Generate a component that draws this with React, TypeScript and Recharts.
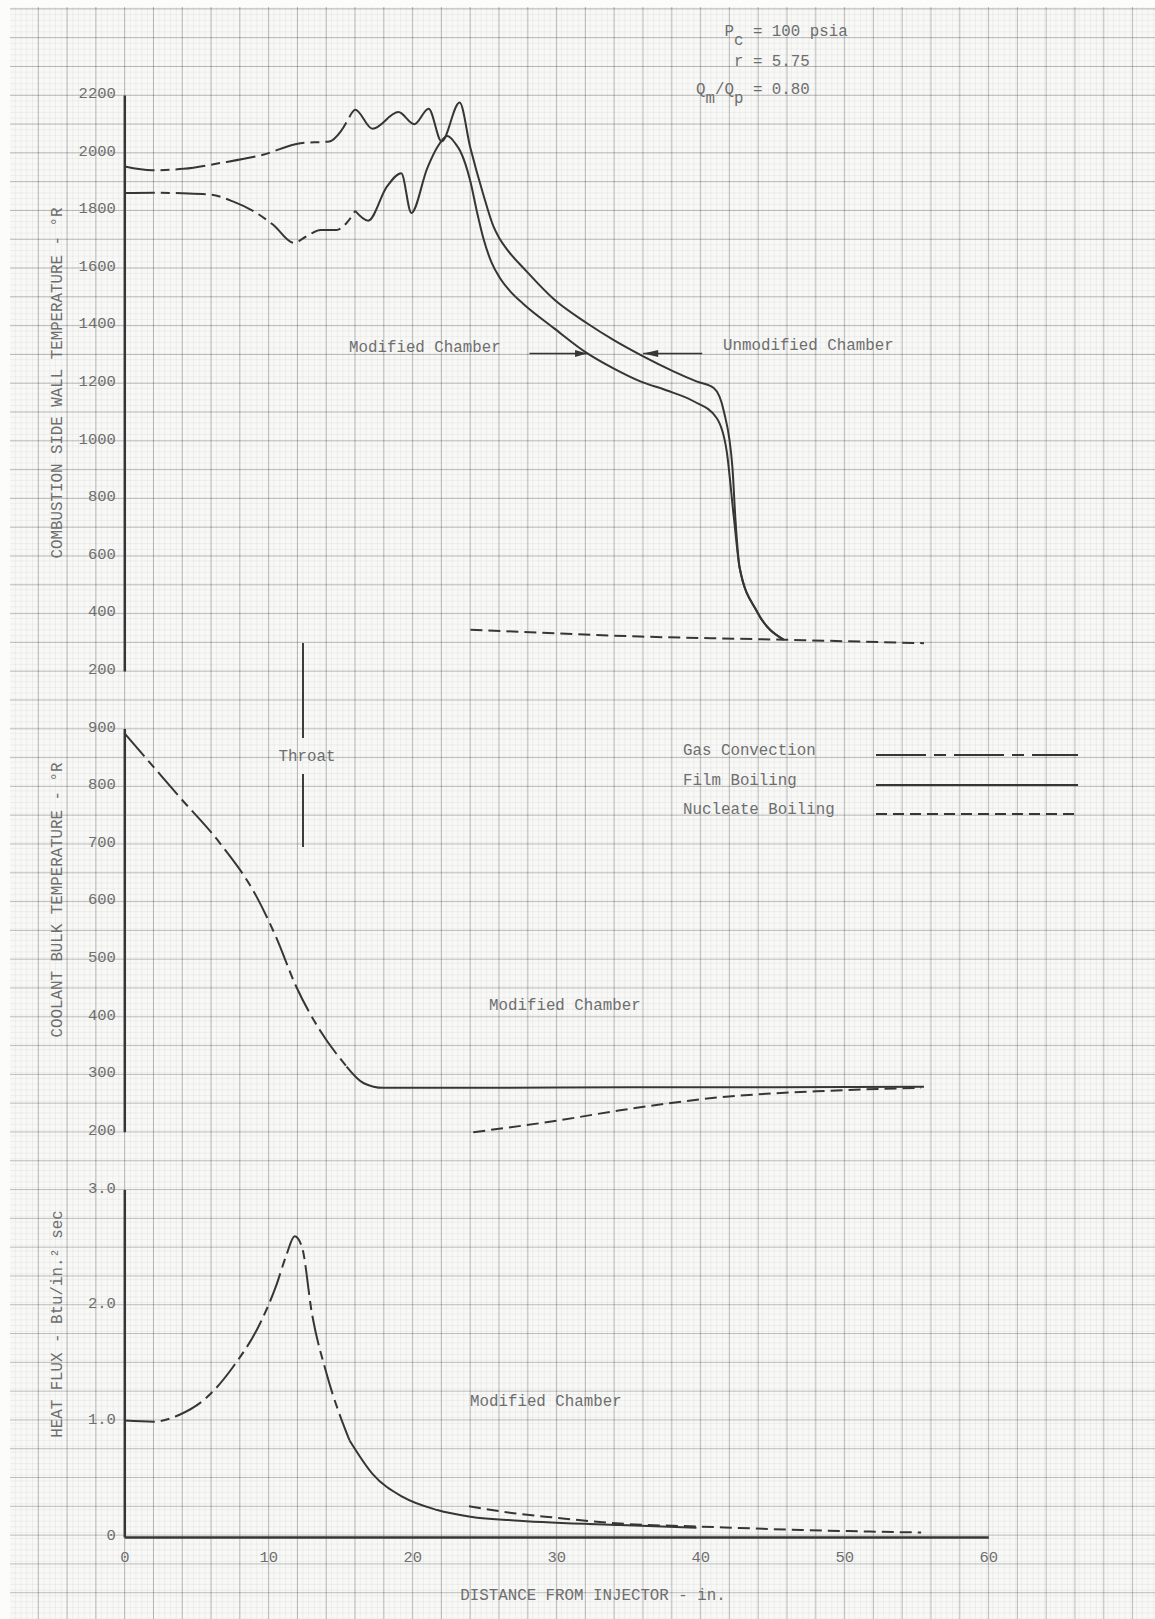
import { LineChart, Line, XAxis, YAxis, ReferenceLine } from "recharts";

const FONT = '"Liberation Mono", "DejaVu Sans Mono", monospace';
const INK = "#363636";
const TEXT = "#6e6e6e";
const GAS_DASH = "30 6 9 6";
const NUCLEATE_DASH = "12 6";

// distance from injector (in.) / value pairs, read per regime
const X_TICKS = [0, 10, 20, 30, 40, 50, 60];
const WALL_TICKS = [200, 400, 600, 800, 1000, 1200, 1400, 1600, 1800, 2000, 2200];
const BULK_TICKS = [200, 300, 400, 500, 600, 700, 800, 900];
const FLUX_TICKS = [0, 1, 2, 3];

// combustion side wall temperature, unmodified chamber
const wallUnmodGas = [
  [0, 1953], [1.9, 1940], [4.1, 1945], [6.6, 1965], [9.6, 1994],
  [12.2, 2034], [14.2, 2040], [15.0, 2075], [15.6, 2125],
];
const wallUnmodFilm = [
  [15.6, 2125], [16.0, 2150], [17.2, 2084], [19.0, 2142], [20.1, 2100],
  [21.1, 2154], [22.0, 2040], [23.25, 2175], [24.0, 2017], [24.9, 1855],
  [25.6, 1745], [26.0, 1705], [26.5, 1668], [27.9, 1589], [29.8, 1492],
  [32.1, 1409], [33.9, 1352], [36.0, 1294], [38.1, 1242], [39.7, 1207],
  [40.9, 1184], [41.6, 1103], [42.2, 906], [42.4, 732], [42.7, 559],
  [43.9, 408], [45.75, 310],
];

// combustion side wall temperature, modified chamber
const wallModGas = [
  [0, 1861], [2.0, 1862], [4.0, 1860], [5.9, 1856], [7.5, 1832],
  [8.9, 1799], [10.3, 1751], [11.75, 1688], [12.6, 1710], [13.6, 1733],
  [14.7, 1733], [15.4, 1757], [16.0, 1799],
];
const wallModFilm = [
  [16.0, 1799], [16.9, 1765], [18.2, 1883], [19.2, 1930], [19.9, 1792],
  [21.0, 1947], [21.7, 2020], [22.4, 2059], [23.0, 2030], [23.3, 2006],
  [24.0, 1901], [24.45, 1797], [24.9, 1704], [25.45, 1622], [26.05, 1566],
  [26.8, 1518], [27.7, 1475], [29.8, 1392], [32.1, 1305], [33.9, 1253],
  [35.8, 1207], [37.6, 1176], [39.5, 1138], [41.1, 1080], [41.8, 964],
  [42.3, 732], [42.7, 559], [43.9, 408], [45.75, 310],
];
const wallNucleate = [[24, 345], [35.8, 321], [45.75, 310], [55.5, 298]];

// coolant bulk temperature
const bulkGas = [
  [0, 892], [1.9, 837], [3.8, 782], [6.6, 702], [9.15, 609],
  [10.5, 539], [11.9, 453], [13.55, 377], [15.4, 314],
];
const bulkFilm = [
  [15.4, 314], [16.6, 285], [17.95, 277], [25, 277], [35, 278],
  [45, 278], [55.5, 279],
];
const bulkNucleate = [
  [24.2, 200], [30, 220], [34.4, 238], [41.5, 261], [48, 271], [55.3, 277],
];

// heat flux
const fluxGas = [
  [0, 1.01], [2.0, 1.0], [3.8, 1.06], [5.7, 1.21], [7.5, 1.47],
  [9.4, 1.85], [10.5, 2.17], [11.2, 2.43], [11.8, 2.6], [12.3, 2.51],
  [13.0, 1.93], [14.0, 1.42], [15.6, 0.84],
];
const fluxFilm = [
  [15.6, 0.84], [17.2, 0.55], [19.3, 0.35], [21.7, 0.237], [24.0, 0.18],
  [27.4, 0.145], [34.4, 0.107], [39.7, 0.085],
];
const fluxNucleate = [
  [23.9, 0.27], [27, 0.21], [30, 0.17], [34.4, 0.12], [39.7, 0.095],
  [47, 0.065], [55.3, 0.043],
];

// page geometry
const PAGE_W = 1155;
const PAGE_H = 1619;
const X_LEFT = 124.8;
const X_RIGHT = 988.8;
const AXIS_W = 60;
const SIDE = { left: X_LEFT - AXIS_W, right: PAGE_W - X_RIGHT };

const pts = (arr: number[][]) => arr.map(([x, y]) => ({ x, y }));

const curve = (key: string, data: number[][], dash?: string) => (
  <Line
    key={key}
    data={pts(data)}
    dataKey="y"
    type="monotone"
    stroke={INK}
    strokeWidth={2}
    strokeDasharray={dash}
    dot={false}
    activeDot={false}
    isAnimationActive={false}
  />
);

const tickStyle = { fill: TEXT, fontFamily: FONT, fontSize: 15.5, dy: -3 };

const yAxis = (domain: number[], ticks: number[], fmt?: (v: number) => string) => (
  <YAxis
    type="number"
    domain={domain}
    ticks={ticks}
    width={AXIS_W}
    axisLine={{ stroke: INK, strokeWidth: 2.5 }}
    tickLine={false}
    tickSize={0}
    tickMargin={9}
    tick={tickStyle}
    tickFormatter={fmt}
    interval={0}
  />
);

const Arrow = (props: any) => {
  const { x1, y1, x2, y2, head = 12 } = props;
  const dir = Math.sign(x2 - x1);
  return (
    <g>
      <line x1={x1} y1={y1} x2={x2} y2={y2} stroke={INK} strokeWidth={1.6} />
      <polygon
        points={`${x2},${y2} ${x2 - dir * head},${y2 - 3.5} ${x2 - dir * head},${y2 + 3.5}`}
        fill={INK}
      />
    </g>
  );
};

const Note = ({ x, y, children, center = false, size = 15.8 }: any) => (
  <div
    style={{
      position: "absolute",
      left: x,
      top: y,
      transform: `translate(${center ? "-50%" : "0"}, -50%)`,
      fontFamily: FONT,
      fontSize: size,
      lineHeight: 1,
      color: TEXT,
      whiteSpace: "pre",
    }}
  >
    {children}
  </div>
);

const AxisTitle = ({ y, children }: any) => (
  <div
    style={{
      position: "absolute",
      left: 59,
      top: y,
      transform: "translate(-50%, -50%) rotate(-90deg)",
      fontFamily: FONT,
      fontSize: 15.8,
      lineHeight: 1,
      color: TEXT,
      whiteSpace: "pre",
    }}
  >
    {children}
  </div>
);

const Sub = ({ children }: any) => (
  <span style={{ position: "relative", top: 9 }}>{children}</span>
);

const LEGEND = [
  { label: "Gas Convection", dash: "50 8 12 8", y: 753 },
  { label: "Film Boiling", dash: undefined, y: 783 },
  { label: "Nucleate Boiling", dash: "11 6", y: 812 },
];

// graph paper: ruled every 28.8px, faint rules every 5.76px
const paper = {
  position: "absolute" as const,
  left: 10,
  top: 7,
  width: PAGE_W - 10,
  height: PAGE_H - 7,
  backgroundColor: "#f8f8f7",
  backgroundImage: [
    "linear-gradient(to right, rgba(0,0,0,0.24) 0 1.3px, transparent 1.3px)",
    "linear-gradient(to bottom, rgba(0,0,0,0.24) 0 1.3px, transparent 1.3px)",
    "linear-gradient(to right, rgba(0,0,0,0.045) 0 1px, transparent 1px)",
    "linear-gradient(to bottom, rgba(0,0,0,0.045) 0 1px, transparent 1px)",
  ].join(","),
  backgroundSize: "28.8px 28.8px, 28.8px 28.8px, 5.76px 5.76px, 5.76px 5.76px",
  backgroundPosition: "27.8px 1.4px, 27.8px 1.4px, 4.8px 1.4px, 4.8px 1.4px",
};

export default function App() {
  return (
    <div
      style={{
        position: "absolute",
        left: 0,
        top: 0,
        width: PAGE_W,
        height: PAGE_H,
        background: "#fcfcfb",
        overflow: "hidden",
      }}
    >
      <div style={paper} />

      {/* wall temperature */}
      <div style={{ position: "absolute", left: 0, top: 0 }}>
        <LineChart width={PAGE_W} height={700} margin={{ top: 95.4, bottom: 28.6, ...SIDE }}>
          <XAxis type="number" dataKey="x" domain={[0, 60]} ticks={X_TICKS} hide />
          {yAxis([200, 2200], WALL_TICKS)}
          {curve("ug", wallUnmodGas, GAS_DASH)}
          {curve("uf", wallUnmodFilm)}
          {curve("mg", wallModGas, GAS_DASH)}
          {curve("mf", wallModFilm)}
          {curve("wn", wallNucleate, NUCLEATE_DASH)}
          <ReferenceLine
            segment={[{ x: 28.1, y: 1304 }, { x: 32.1, y: 1304 }]}
            shape={(p: any) => <Arrow {...p} head={12} />}
          />
          <ReferenceLine
            segment={[{ x: 40.1, y: 1304 }, { x: 36.0, y: 1304 }]}
            shape={(p: any) => <Arrow {...p} head={15} />}
          />
        </LineChart>
      </div>

      {/* coolant bulk temperature */}
      <div style={{ position: "absolute", left: 0, top: 700 }}>
        <LineChart width={PAGE_W} height={460} margin={{ top: 29, bottom: 27.8, ...SIDE }}>
          <XAxis type="number" dataKey="x" domain={[0, 60]} ticks={X_TICKS} hide />
          {yAxis([200, 900], BULK_TICKS)}
          {curve("bg", bulkGas, GAS_DASH)}
          {curve("bf", bulkFilm)}
          {curve("bn", bulkNucleate, NUCLEATE_DASH)}
        </LineChart>
      </div>

      {/* heat flux */}
      <div style={{ position: "absolute", left: 0, top: 1160 }}>
        <LineChart width={PAGE_W} height={459} margin={{ top: 30, bottom: 0, ...SIDE }}>
          <XAxis
            type="number"
            dataKey="x"
            domain={[0, 60]}
            ticks={X_TICKS}
            height={81.5}
            axisLine={{ stroke: INK, strokeWidth: 2.5 }}
            tickLine={false}
            tickSize={0}
            tickMargin={13}
            tick={{ fill: TEXT, fontFamily: FONT, fontSize: 15.5 }}
            interval={0}
          />
          {yAxis([0, 3], FLUX_TICKS, (v) => (v === 0 ? "0" : v.toFixed(1)))}
          {curve("fg", fluxGas, GAS_DASH)}
          {curve("ff", fluxFilm)}
          {curve("fn", fluxNucleate, NUCLEATE_DASH)}
        </LineChart>
      </div>

      {/* throat marker */}
      <div style={{ position: "absolute", left: 302, top: 643, width: 2, height: 95, background: "#3c3c3c" }} />
      <div style={{ position: "absolute", left: 302, top: 774, width: 2, height: 73, background: "#3c3c3c" }} />
      <Note x={307} y={758} center>Throat</Note>

      {/* operating point */}
      <Note x={696} y={33}>{"   P"}<Sub>c</Sub>{" = 100 psia"}</Note>
      <Note x={696} y={63}>{"    r = 5.75"}</Note>
      <Note x={696} y={91}>{"Q"}<Sub>m</Sub>{"/Q"}<Sub>p</Sub>{" = 0.80"}</Note>

      <Note x={349} y={349}>Modified Chamber</Note>
      <Note x={723} y={347}>Unmodified Chamber</Note>
      <Note x={489} y={1007}>Modified Chamber</Note>
      <Note x={470} y={1403}>Modified Chamber</Note>

      {/* regime key */}
      {LEGEND.map((item) => (
        <div key={item.label}>
          <Note x={683} y={item.y - 1}>{item.label}</Note>
          <svg
            width={210}
            height={6}
            style={{ position: "absolute", left: 874, top: item.y - 1 }}
          >
            <line x1={2} y1={3} x2={204} y2={3} stroke={INK} strokeWidth={1.8} strokeDasharray={item.dash} />
          </svg>
        </div>
      ))}

      <AxisTitle y={383}>COMBUSTION SIDE WALL TEMPERATURE - °R</AxisTitle>
      <AxisTitle y={900}>COOLANT BULK TEMPERATURE - °R</AxisTitle>
      <AxisTitle y={1324}>HEAT FLUX - Btu/in.² sec</AxisTitle>
      <Note x={593} y={1597} center>DISTANCE FROM INJECTOR - in.</Note>
    </div>
  );
}
